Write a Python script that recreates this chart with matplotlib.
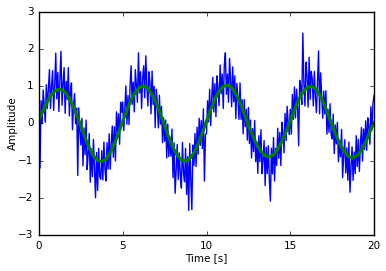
import matplotlib
matplotlib.use("Agg")
import matplotlib.pyplot as plt
import numpy as np

plt.style.use("classic")

noisy = [
    .32, -1.2, .61, -.01, .9, .51, .03, 1.04, .4, .95, 1.45, .4, .98, 1.42, .35, 1.02, 1.89, .66, 1.37, .32,
    1.22, 1.94, .49, 1.07, 1.5, .27, 1.13, .65, 1.5, .2, .85, 1.09, -.17, .51, .8, -.01, .41, -1.4, .42, -.2,
    -.58, .14, -1.14, -.12, -.84, .09, -1.24, -.81, -.27, -1.58, -.68, -1.43, -.43, -1.22, -2.0, -.78, -1.8, -.67, -1.43, -1.5,
    -.73, -1.52, -.5, -1.23, -1.55, -.52, -1.23, -.28, -1.23, -.53, -.07, -.91, -.09, -1.01, .31, -.22, .26, -.56, .57, .3,
    .58, -.19, .38, 1.01, -.02, .75, -.03, 1.04, 1.55, .51, 1.11, .31, 1.45, 1.04, .57, 1.9, .82, 1.39, .4, 1.2,
    1.55, .69, 1.82, 1.05, .47, 1.39, 1.1, .26, 1.41, .51, 1.0, -.11, .92, .55, -.12, .76, -.02, .46, -.52, .15,
    -.48, .09, -.93, -.02, -.89, -.36, -.88, -.15, -1.46, -.52, -1.88, -1.28, -.57, -1.51, -.79, -1.37, -1.74, -.51, -1.32, -1.57,
    -.67, -1.91, -.89, -2.34, -.54, -1.56, -2.32, -.58, -1.13, -.27, -1.16, -.1, -.83, .14, -.59, .08, -.68, .39, -1.55, -.3,
    -.27, .61, .04, .92, -.06, .71, 1.24, .31, 1.07, .18, 1.28, .93, .48, 1.57, .8, 1.33, .4, 1.57, 1.9, .78,
    1.33, .57, 1.75, 1.18, .45, 1.52, .58, 1.28, .13, 1.08, .72, .11, 1.09, .11, .64, -.28, .64, -.09, .38, -.45,
    .43, -.54, .09, -.93, -.14, -.76, .08, -1.03, -.49, -1.34, -.33, -1.03, -.17, -1.35, -.98, -.46, -1.67, -.64, -1.35, -.6,
    -1.5, -2.09, -.67, -1.36, -.38, -1.55, -.67, -1.13, -.13, -.94, -.24, -1.13, .03, -.26, -.79, .27, -.46, .46, .03, -.3,
    .38, -.29, .78, .11, .98, .15, .92, .44, -.6, 1.16, 1.01, .51, 2.43, 1.09, .47, 1.65, 1.27, .44, 1.78, .65,
    1.4, 1.19, .47, 1.4, .72, .29, 1.15, 1.95, .26, 1.36, .75, .14, .87, .25, .88, -.29, .38, -.24, .53, -.3,
    -.42, .25, -.81, -.04, -.55, .03, -1.03, -.45, -.9, -.16, -1.46, -.85, -.44, -1.33, -.66, -1.53, -.5, -1.85, -1.18, -.63,
    -1.53, -.77, -1.35, -.33, -1.16, -.43, -1.29, -.55, -.11, -1.01, -.15, -.7, .07, -.72, .15, -.09, -.56, .45, -.17, .55,
    .75,
]
t_noisy = np.linspace(0, 20, len(noisy))

# filtered signal, every 0.25 s
smooth = [
    .12, .34, .59, .78, .89, .92, .86, .71, .49, .23,
    -.06, -.38, -.66, -.87, -1.0, -1.03, -.96, -.79, -.55, -.26,
    .06, .37, .64, .84, .97, 1.0, .93, .77, .54, .25,
    -.06, -.38, -.65, -.86, -.99, -1.02, -.95, -.79, -.55, -.25,
    .06, .38, .66, .87, 1.0, 1.03, .96, .79, .55, .26,
    -.06, -.33, -.57, -.76, -.87, -.9, -.84, -.69, -.48, -.22,
    .06, .37, .64, .84, .97, 1.0, .93, .77, .54, .25,
    -.06, -.34, -.59, -.78, -.9, -.93, -.86, -.72, -.50, -.23,
    .02,
]
t_smooth = np.linspace(0, 20, len(smooth))

fig = plt.figure(figsize=(3.86, 2.71), dpi=100, facecolor="white")
ax = fig.add_axes([0.101, 0.133, 0.868, 0.823])

ax.plot(t_noisy, noisy, color="b", lw=1.0)
ax.plot(t_smooth, smooth, color="g", lw=2.3)

ax.set_xlim(0, 20)
ax.set_ylim(-3, 3)
ax.set_xticks([0, 5, 10, 15, 20])
ax.set_yticks([-3, -2, -1, 0, 1, 2, 3])
ax.tick_params(labelsize=7.5, length=3)
ax.set_xlabel("Time [s]", fontsize=7.5, labelpad=2)
ax.set_ylabel("Amplitude", fontsize=7.5, labelpad=0)

fig.savefig("out.png", dpi=100, facecolor="white")
